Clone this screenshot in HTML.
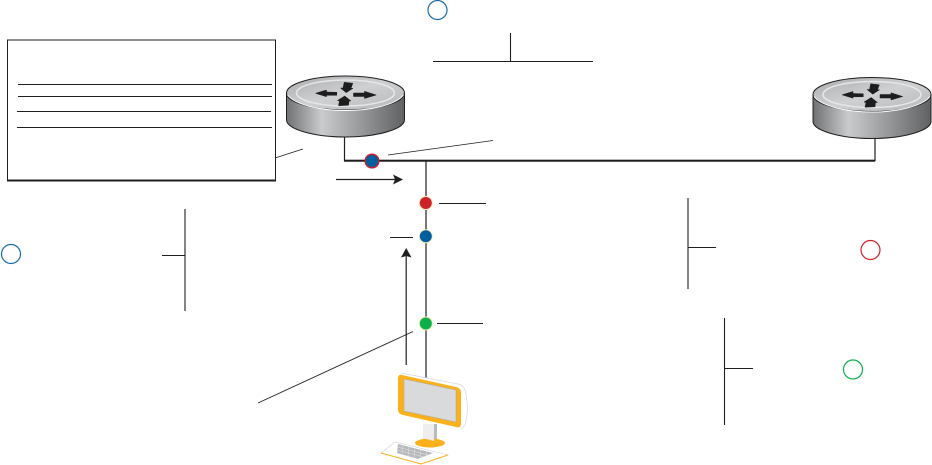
<!DOCTYPE html>
<html>
<head>
<meta charset="utf-8">
<style>
html,body{margin:0;padding:0;background:#fff;width:932px;height:465px;overflow:hidden}
svg{display:block}
</style>
</head>
<body>
<svg width="932" height="465" viewBox="0 0 932 465" xmlns="http://www.w3.org/2000/svg">
<defs>
<linearGradient id="side" x1="0" x2="1" y1="0" y2="0">
<stop offset="0" stop-color="#6f7173"/>
<stop offset=".3" stop-color="#c9cbcc"/>
<stop offset=".55" stop-color="#a3a5a7"/>
<stop offset="1" stop-color="#5f6163"/>
</linearGradient>
<linearGradient id="top" x1="0" x2="1" y1="0" y2="1">
<stop offset="0" stop-color="#a9abad"/>
<stop offset=".5" stop-color="#cfd0d1"/>
<stop offset="1" stop-color="#b5b7b9"/>
</linearGradient>
<g id="router">
<path d="M-59,0 V27 C-59,36 -32,44 0,44 C32,44 59,36 59,27 V0 Z" fill="url(#side)" stroke="#1f1f20" stroke-width="1"/>
<ellipse cx="0" cy="0" rx="59" ry="17" fill="url(#top)" stroke="#1f1f20" stroke-width="1"/>
<path d="M-58,2 C-50,12 -25,17.500 0,17.500 C25,17.500 50,12 58,2" fill="none" stroke="#fff" stroke-width="1"/>
<ellipse cx="0" cy="0" rx="49" ry="13" fill="none" stroke="#e6e7e8" stroke-width="1.500"/>
<g fill="#1d1d1e" stroke="#1d1d1e" stroke-width=".5" stroke-linejoin="round">
<path d="M-1.300,-10.700 L7.300,-9.700 L5.500,-4.700 L7.500,-4.700 L0.700,-0.300 L-5,-5 L-2.500,-5 Z"/>
<path d="M-0.800,3 L5.500,8 L3.500,8 L3,12.300 L-7,12.700 L-6,8 L-8,7.500 Z"/>
<path d="M-30,0.300 L-19,-3 L-19,-1 L-8.700,-0.700 L-8.700,2.300 L-19,2.300 L-19,3.700 Z"/>
<path d="M30.700,2 L19,-1.700 L19,0 L8,0 L8,3.500 L19,3.500 L19,5.500 Z"/>
</g>
</g>
</defs>

<!-- table box -->
<rect x="7.500" y="40" width="268" height="140.500" fill="#fff" stroke="#1f1f20" stroke-width="1"/>
<rect x="7" y="179.500" width="269" height="2" fill="#1f1f20"/>
<g stroke="#1f1f20" stroke-width="1.100">
<line x1="18" y1="84.500" x2="272" y2="84.500"/>
<line x1="18" y1="96.500" x2="272" y2="96.500"/>
<line x1="17" y1="111.500" x2="271" y2="111.500"/>
<line x1="17" y1="127.500" x2="272" y2="127.500"/>
</g>

<!-- connection lines -->
<g fill="none" stroke="#1f1f20">
<path d="M344.500,135 V160.500 H875 V137" stroke-width="1.200"/>
<line x1="344" y1="160.700" x2="875" y2="160.700" stroke-width="2"/>
<line x1="426" y1="161" x2="426" y2="378" stroke-width="1.200"/>
<line x1="406.200" y1="256" x2="406.200" y2="365" stroke-width="1.200"/>
<line x1="336" y1="179.500" x2="396" y2="179.500" stroke-width="1.200"/>
<!-- brackets -->
<path d="M433,61.500 H593 M510.500,33 V61" stroke-width="1.100"/>
<path d="M185,209 V311 M162,255.500 H185" stroke-width="1.100"/>
<path d="M688,198 V289 M688,247.500 H716" stroke-width="1.100"/>
<path d="M724.500,318 V425 M724,368.500 H753" stroke-width="1.100"/>
<!-- callouts -->
<line x1="439" y1="203.500" x2="486" y2="203.500" stroke-width="1.100"/>
<line x1="437" y1="323.500" x2="483" y2="323.500" stroke-width="1.100"/>
<line x1="390" y1="237.500" x2="413" y2="237.500" stroke-width="1.100"/>
<line x1="258" y1="403" x2="413" y2="331.500" stroke-width=".9"/>
<line x1="275" y1="158" x2="303" y2="149" stroke-width=".8"/>
<line x1="388" y1="155" x2="493" y2="140.500" stroke-width=".8"/>
</g>
<path d="M406.200,248 L411.500,257.500 L406.200,256 L401,257.500 Z" fill="#1f1f20"/>
<path d="M403,179.500 L393,174.500 L395,179.500 L393,184.500 Z" fill="#1f1f20"/>

<!-- routers -->
<use href="#router" x="345.500" y="93"/>
<use href="#router" x="872" y="94.500"/>

<!-- dots -->
<circle cx="372" cy="161" r="6.800" fill="#005f9e" stroke="#c8202f" stroke-width="1.500"/>
<circle cx="425.800" cy="203" r="6.500" fill="#cc2229" stroke="#f6eab8" stroke-width="1"/>
<circle cx="425.800" cy="236.300" r="6.500" fill="#00609f" stroke="#f6eab8" stroke-width="1"/>
<circle cx="425.800" cy="323.500" r="6.500" fill="#0cb04a" stroke="#f6eab8" stroke-width="1"/>

<!-- legend rings -->
<circle cx="437.500" cy="10" r="9.500" fill="#fff" stroke="#1a6ca8" stroke-width="1.200"/>
<circle cx="11" cy="254" r="9.500" fill="#fff" stroke="#1a6ca8" stroke-width="1.200"/>
<circle cx="870.500" cy="250" r="9.500" fill="#fff" stroke="#cc2229" stroke-width="1.200"/>
<circle cx="853" cy="369.500" r="9.500" fill="#fff" stroke="#0cb04a" stroke-width="1.200"/>

<!-- computer -->
<path d="M401,373 L458,384 C463,385 465,388 466,394 C468,405 468,415 465,425 L461,429" fill="#fff" stroke="#d5d6d7" stroke-width=".7"/>
<path d="M423,424 H437 V441 H423 Z" fill="#f1f1f2"/>
<path d="M432.500,424 H437 V441 H432.500 Z" fill="#b9bbbd"/>
<ellipse cx="430" cy="443" rx="15" ry="4.500" fill="#fbb11c"/>
<path d="M423,424 H434 V441 L423,438 Z" fill="#eeeeef"/>
<path d="M402,375 L456,387 C460,388 461,390 461,393 L461,424 C461,427 459,428 456,427 L403,415 C399,414 398,412 398,409 L398,379 C398,376 399,374 402,375 Z" fill="#fbb11c"/>
<path d="M404,379 L456,390 L456,422 L404,411 Z" fill="#d8dadb" stroke="#a6a8aa" stroke-width=".5"/>
<path d="M381,453 L395,442 L448,455 L421,464 Z" fill="#fff" stroke="#d0d1d2" stroke-width=".6"/>
<path d="M381,453 L421,464 L448,455" fill="none" stroke="#fbb11c" stroke-width="1"/>
<path d="M398,444 L433,453 L418,459 L397,453 Z" fill="#b7b9bb"/>
<g stroke="#e4e5e6" stroke-width=".5" fill="none">
<path d="M397,447 L428,455 M397,450 L424,457"/>
<path d="M403,445 L402,454 M409,447 L408,456 M415,448 L414,458 M421,450 L420,458 M427,451 L426,457"/>
</g>
</svg>
</body>
</html>
